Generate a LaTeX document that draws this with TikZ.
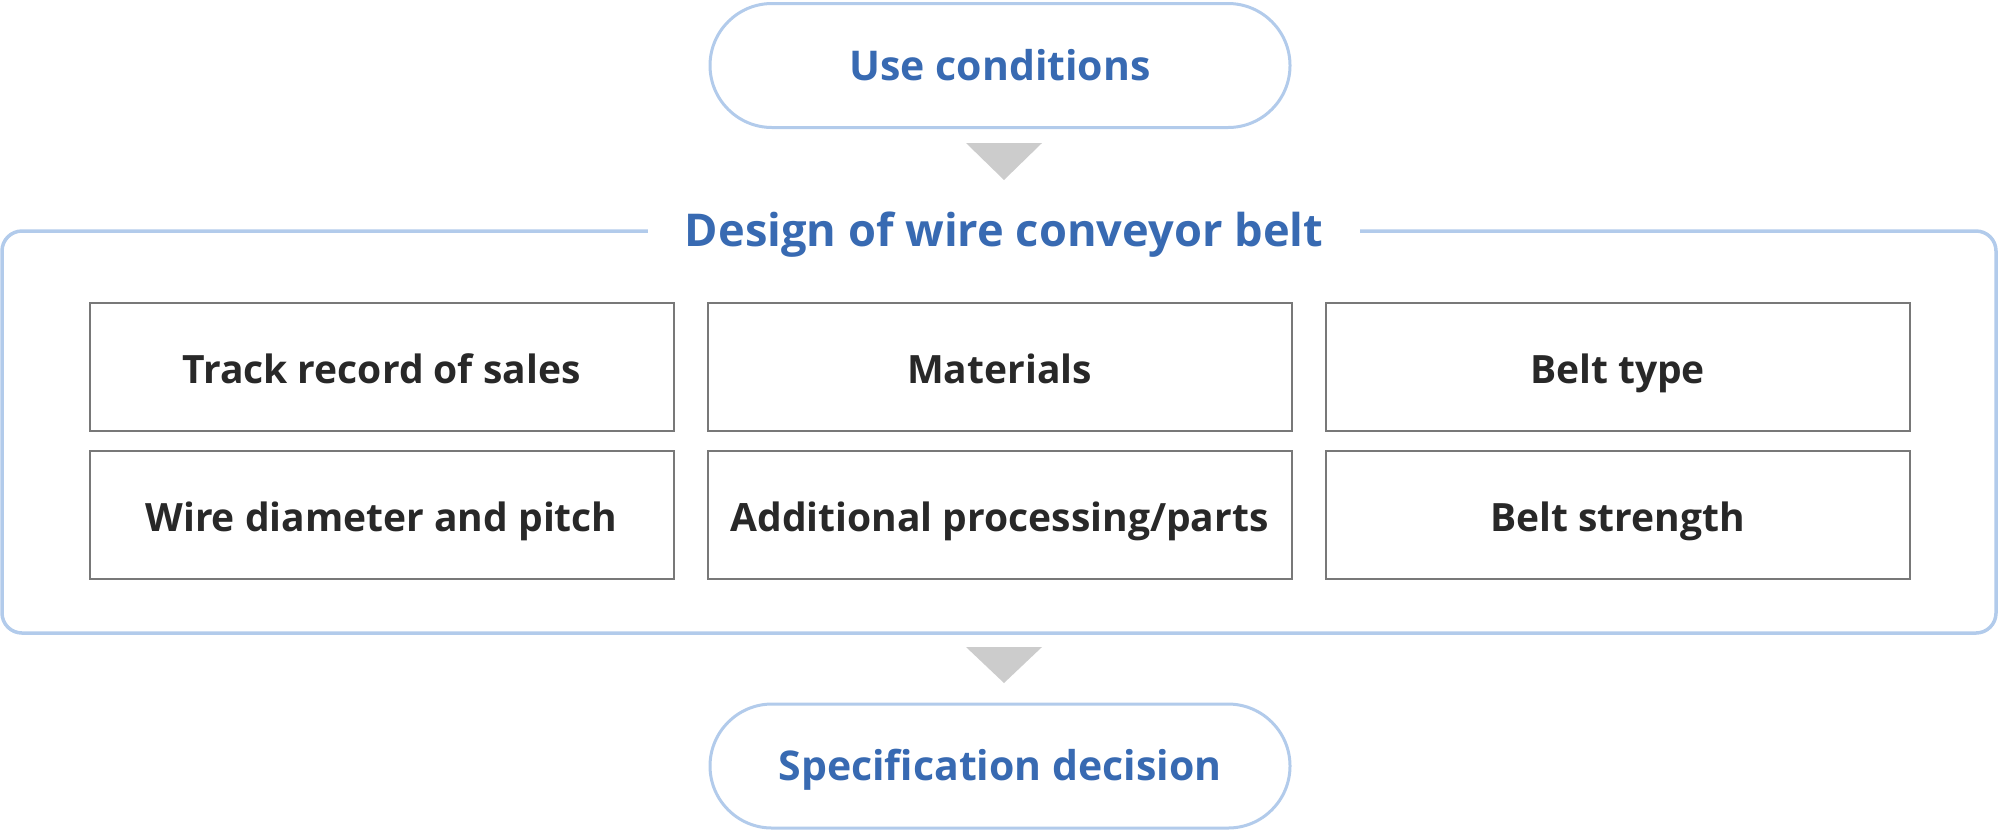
\documentclass[tikz,border=0pt]{standalone}
\usepackage{fontspec}
\setmainfont{Open Sans}
\usepackage{tikz}
\usepackage{xcolor}
\usetikzlibrary{positioning}
\definecolor{pillblue}{RGB}{178, 203, 235}
\definecolor{textblue}{RGB}{56, 106, 178}
\definecolor{boxgray}{RGB}{120, 120, 120}
\definecolor{markgray}{RGB}{204, 204, 204}
\definecolor{ink}{RGB}{40, 40, 40}
\tikzstyle{pill} = [
    rectangle,
    rounded corners=31pt,
    minimum width=290pt,
    minimum height=62pt,
    line width=1.5pt,
    draw=pillblue,
    fill=white,
    text=textblue,
    text height=14.6pt,
    text depth=0pt,
    font=\bfseries\fontsize{20.5}{24}\selectfont
]
\tikzstyle{item} = [
    rectangle,
    minimum width=292pt,
    minimum height=64pt,
    line width=1pt,
    draw=boxgray,
    text=ink,
    text height=17pt,
    text depth=0pt,
    font=\bfseries\fontsize{19.5}{23}\selectfont
]
\tikzstyle{marker} = [
    fill=markgray
]

\begin{document}
\begin{tikzpicture}[x=0.5pt,y=-0.5pt]
    \useasboundingbox (0,0) rectangle (2000,832);

    % outer frame
    \draw[pillblue, line width=1.75pt, rounded corners=10pt] (2,231) rectangle (1996,633);
    \node[fill=white, minimum width=356pt, anchor=base, text=textblue,
          font=\bfseries\fontsize{22.6}{27}\selectfont] (design) at (1004,246) {Design of wire conveyor belt};

    \node[pill] (use) at (1000,65.5) {Use conditions};
    \node[pill] (spec) at (1000,766) {Specification decision};

    % items
    \node[item] (sales) at (381.5,366.5) {Track record of sales};
    \node[item, right=16pt of sales] (materials) {Materials};
    \node[item, right=16pt of materials] (type) {Belt type};
    \node[item, below=9pt of sales] (wire) {Wire diameter and pitch};
    \node[item, right=16pt of wire] (extra) {Additional processing/parts};
    \node[item, right=16pt of extra] (strength) {Belt strength};

    % down marks
    \coordinate (mark1) at (1004,143);
    \coordinate (mark2) at (1004,647);
    \fill[marker] (mark1) -- ++(-38,0) -- ++(38,37) -- ++(38,-37) -- cycle;
    \fill[marker] (mark2) -- ++(-38,0) -- ++(38,36) -- ++(38,-36) -- cycle;
\end{tikzpicture}
\end{document}
